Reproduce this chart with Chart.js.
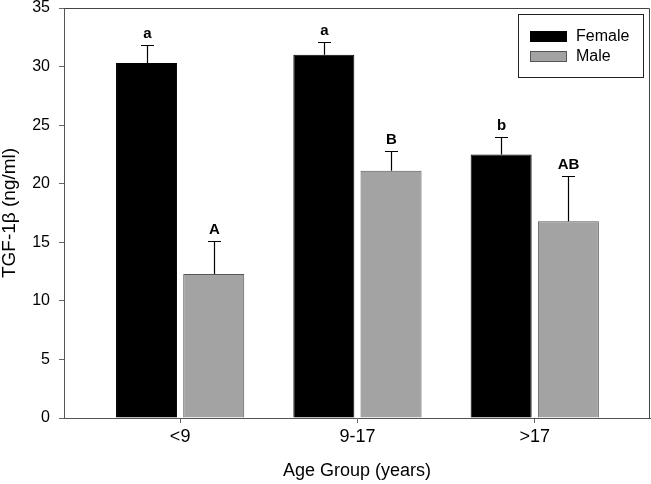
<!DOCTYPE html>
<html>
<head>
<meta charset="utf-8">
<script src="https://cdn.jsdelivr.net/npm/chart.js@4"></script>
<style>
  html, body { margin: 0; padding: 0; background: #fff; }
  #wrap { width: 651px; height: 484px; position: relative; }
</style>
</head>
<body>
<div id="wrap"><canvas id="c" width="651" height="484"></canvas></div>
<script>
const categories = ['<9', '9-17', '>17'];
const femaleValues = [30.3, 31.0, 22.5];
const maleValues = [12.3, 21.1, 16.8];
const femaleErrors = [1.5, 1.1, 1.5];
const maleErrors = [2.85, 1.7, 3.9];
const femaleLetters = ['a', 'a', 'b'];
const maleLetters = ['A', 'B', 'AB'];
const yTicks = [0, 5, 10, 15, 20, 25, 30, 35];

const FONT = '"Liberation Sans", Arial, Helvetica, sans-serif';

const errorBarPlugin = {
  id: 'errorBars',
  afterDatasetsDraw(chart) {
    const ctx = chart.ctx;
    const yScale = chart.scales.y;
    ctx.save();
    chart.data.datasets.forEach((ds, di) => {
      const meta = chart.getDatasetMeta(di);
      meta.data.forEach((bar, i) => {
        const v = ds.data[i].y;
        const e = ds.errors[i];
        const yTop = yScale.getPixelForValue(v + e);
        const yBar = yScale.getPixelForValue(v);
        const x = Math.round(bar.x) + 0.5;
        ctx.strokeStyle = '#000';
        ctx.lineWidth = 1.2;
        ctx.beginPath();
        ctx.moveTo(x, yBar);
        ctx.lineTo(x, Math.round(yTop) + 0.5);
        ctx.moveTo(x - 6.5, Math.round(yTop) + 0.5);
        ctx.lineTo(x + 6.5, Math.round(yTop) + 0.5);
        ctx.stroke();
        ctx.fillStyle = '#000';
        ctx.font = 'bold 15px ' + FONT;
        ctx.textAlign = 'center';
        ctx.textBaseline = 'alphabetic';
        ctx.fillText(ds.letters[i], x, yTop - 7);
      });
    });
    ctx.restore();
  }
};

const framePlugin = {
  id: 'frame',
  afterDraw(chart) {
    const ctx = chart.ctx;
    const a = chart.chartArea;
    ctx.save();
    ctx.strokeStyle = '#444';
    ctx.lineWidth = 1;
    ctx.beginPath();
    ctx.moveTo(Math.round(a.left) + 0.5, Math.round(a.top) + 0.5);
    ctx.lineTo(Math.round(a.right) - 0.5, Math.round(a.top) + 0.5);
    ctx.lineTo(Math.round(a.right) - 0.5, Math.round(a.bottom) + 0.5);
    ctx.stroke();

    // legend box
    const lx = 518, ly = 14, lw = 125, lh = 63;
    ctx.strokeStyle = '#222';
    ctx.strokeRect(lx + 0.5, ly + 0.5, lw, lh);
    ctx.font = '16px ' + FONT;
    ctx.textAlign = 'left';
    ctx.textBaseline = 'middle';
    chart.data.datasets.forEach((ds, i) => {
      const cy = ly + 22 + i * 20;
      ctx.fillStyle = ds.backgroundColor;
      ctx.fillRect(lx + 12, cy - 5, 37, 11);
      ctx.strokeStyle = ds.borderColor;
      ctx.strokeRect(lx + 12.5, cy - 4.5, 36, 10);
      ctx.fillStyle = '#000';
      ctx.fillText(ds.label, lx + 58, cy + 1);
    });
    ctx.restore();
  }
};

new Chart(document.getElementById('c'), {
  type: 'bar',
  data: {
    datasets: [
      {
        label: 'Female',
        data: femaleValues.map((v, i) => ({ x: i, y: v })),
        errors: femaleErrors,
        letters: femaleLetters,
        backgroundColor: '#000000',
        borderColor: '#000000',
        borderWidth: 1
      },
      {
        label: 'Male',
        data: maleValues.map((v, i) => ({ x: i, y: v })),
        errors: maleErrors,
        letters: maleLetters,
        backgroundColor: '#a3a3a3',
        borderColor: '#555555',
        borderWidth: 1
      }
    ]
  },
  options: {
    responsive: false,
    animation: false,
    devicePixelRatio: 1,
    categoryPercentage: 0.758,
    barPercentage: 0.908,
    layout: { padding: { top: 0, right: 1, left: 0, bottom: 0 } },
    plugins: {
      legend: { display: false },
      tooltip: { enabled: false }
    },
    scales: {
      x: {
        type: 'linear',
        min: -0.655,
        max: 2.65,
        offset: false,
        afterBuildTicks(scale) {
          scale.ticks = categories.map((c, i) => ({ value: i }));
        },
        afterFit(scale) { scale.height = 66; },
        ticks: {
          callback: (v) => categories[v],
          autoSkip: false,
          maxRotation: 0,
          color: '#000',
          padding: 3,
          font: { family: FONT, size: 18 }
        },
        grid: { offset: false, drawOnChartArea: false, drawTicks: true, tickLength: 5, color: '#666' },
        border: { display: true, color: '#555' },
        title: {
          display: true,
          text: 'Age Group (years)',
          color: '#000',
          font: { family: FONT, size: 18, lineHeight: 1 },
          padding: { top: 0, bottom: 3.5 }
        }
      },
      y: {
        min: 0,
        max: 35,
        afterBuildTicks(scale) {
          scale.ticks = yTicks.map(v => ({ value: v }));
        },
        afterFit(scale) {
          scale.width = 64;
          scale.paddingTop = 8;
          scale.paddingBottom = 8;
        },
        ticks: {
          color: '#000',
          padding: 9,
          font: { family: FONT, size: 16, lineHeight: 1 }
        },
        grid: { drawOnChartArea: false, drawTicks: true, tickLength: 5, color: '#666' },
        border: { display: true, color: '#555' },
        title: {
          display: true,
          text: 'TGF-1β (ng/ml)',
          color: '#000',
          font: { family: FONT, size: 19, lineHeight: 1 },
          padding: { top: 0, bottom: 0 }
        }
      }
    }
  },
  plugins: [errorBarPlugin, framePlugin]
});
</script>
</body>
</html>
